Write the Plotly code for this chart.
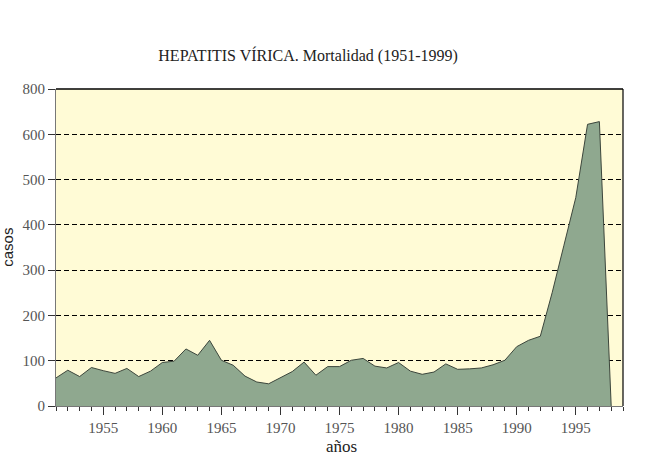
"""
Hepatitis virica, mortalidad 1951-1999 (area chart).
"""
import plotly.graph_objs as go

years = list(range(1951, 1999))
casos = [62, 79, 65, 85, 78, 72, 83, 65, 77, 96,
         99, 126, 112, 145, 101, 90, 66, 53, 49, 62,
         76, 97, 68, 87, 87, 101, 105, 88, 84, 96,
         77, 70, 75, 93, 81, 82, 84, 91, 101, 131,
         145, 154, 250, 355, 460, 622, 628, 0]

# the original y axis labels its top line "800" (it sits where 700 would be)
y_tickvals = [0, 100, 200, 300, 400, 500, 600, 700]
y_ticktext = ["0", "100", "200", "300", "400", "500", "600", "800"]
x_tickvals = [1955, 1960, 1965, 1970, 1975, 1980, 1985, 1990, 1995]

serif = "Liberation Serif, DejaVu Serif, serif"
sans = "Liberation Sans, Arial, sans-serif"

fig = go.Figure()
fig.add_trace(go.Scatter(x=years, y=casos, mode="lines", fill="tozeroy",
                         fillcolor="#8fa88f",
                         line=dict(color="#3c463c", width=1),
                         hoverinfo="x+y", showlegend=False))

fig.update_layout(
    width=650, height=456,
    margin=dict(l=56, r=27, t=89, b=50, autoexpand=False),
    paper_bgcolor="white",
    plot_bgcolor="#fffbd6",
    title=dict(text="HEPATITIS VÍRICA. Mortalidad (1951-1999)",
               x=0.474, xanchor="center", y=0.879, yanchor="middle",
               font=dict(family=serif, size=16, color="#222")),
    font=dict(family=serif, color="#555"),
)

fig.update_xaxes(
    automargin=False,
    range=[1951, 1999], tickvals=x_tickvals,
    ticks="outside", ticklen=8, tickcolor="#333", tickwidth=1,
    minor=dict(dtick=1, tick0=1951, ticks="outside", ticklen=4,
               tickcolor="#333", showgrid=False),
    showgrid=False, zeroline=False,
    showline=True, linecolor="#777", linewidth=1,
    tickfont=dict(family=serif, size=15, color="#555"),
)
fig.update_yaxes(
    automargin=False,
    range=[0, 700], tickvals=y_tickvals, ticktext=y_ticktext,
    ticks="outside", ticklen=7, tickcolor="#333",
    showgrid=True, gridcolor="black", griddash="5px,3px", gridwidth=1,
    zeroline=False,
    showline=True, linecolor="#777", linewidth=1,
    tickfont=dict(family=serif, size=15, color="#555"),
)

# axis titles
fig.add_annotation(text="años", xref="paper", yref="paper",
                   x=0.504, y=-0.127, showarrow=False,
                   xanchor="center", yanchor="middle",
                   font=dict(family=serif, size=17, color="#222"))
fig.add_annotation(text="casos", xref="paper", yref="paper",
                   x=-0.086, y=0.5, showarrow=False, textangle=-90,
                   xanchor="center", yanchor="middle",
                   font=dict(family=sans, size=15, color="#222"))

# black top and right border of the plot area
fig.add_shape(type="line", xref="x domain", yref="y domain",
              x0=0, x1=1, y0=1, y1=1, line=dict(color="black", width=1.5))
fig.add_shape(type="line", xref="x domain", yref="y domain",
              x0=1, x1=1, y0=0, y1=1, line=dict(color="black", width=1.2))

fig.write_html("out.html", config={"displayModeBar": False},
               post_script="document.body.style.margin='0';")
